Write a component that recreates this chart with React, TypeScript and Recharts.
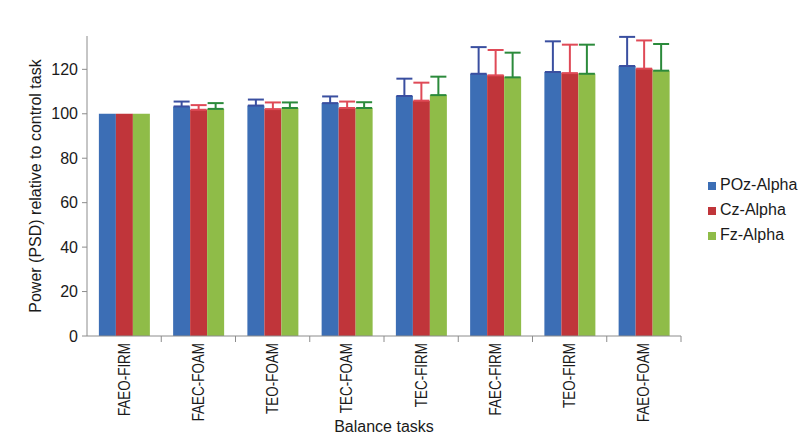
import { Bar, BarChart, ErrorBar, Label, Legend, XAxis, YAxis } from "recharts";

const tasks = ["FAEO-FIRM", "FAEC-FOAM", "TEO-FOAM", "TEC-FOAM", "TEC-FIRM", "FAEC-FIRM", "TEO-FIRM", "FAEO-FOAM"];
const pozAlpha = [100, 103.3, 103.7, 104.8, 108, 118, 118.8, 121.5];
const pozErr = [null, 2.2, 2.7, 3, 7.8, 12, 13.8, 13.1];
const czAlpha = [100, 101.8, 102.1, 102.6, 105.9, 117.3, 118.3, 120.3];
const czErr = [null, 2.1, 3, 2.9, 8.1, 11.4, 12.8, 12.7];
const fzAlpha = [100, 102.2, 102.6, 102.6, 108.4, 116.4, 118, 119.4];
const fzErr = [null, 2.6, 2.5, 2.6, 8.3, 11.1, 13.1, 12];
const yTicks = [0, 20, 40, 60, 80, 100, 120];
const seriesOrder = ["poz", "cz", "fz"];

const FONT = "'Liberation Sans', Arial, sans-serif";
const INK = "#1a1a1a";
const AXIS = "#8c8c8c";

const WIDTH = 800;
const HEIGHT = 440;
const MARGIN = { top: 36, right: 119, bottom: 0, left: 30 };
const Y_AXIS_WIDTH = 57;
// width of one category band, used to put tick marks between categories like Excel
const BAND = (WIDTH - MARGIN.left - MARGIN.right - Y_AXIS_WIDTH) / tasks.length;

// Excel-style "plus" error bars: only the upper half
const upOnly = (e: number | null) => (e == null ? null : [0, e]);

const data = tasks.map((task, i) => ({
  task,
  poz: pozAlpha[i],
  pozErr: upOnly(pozErr[i]),
  cz: czAlpha[i],
  czErr: upOnly(czErr[i]),
  fz: fzAlpha[i],
  fzErr: upOnly(fzErr[i]),
}));

function TaskTick({ x, y, payload }: any) {
  const edge = x + BAND / 2;
  return (
    <g>
      <line x1={edge} x2={edge} y1={y} y2={y + 6} stroke={AXIS} />
      {/* rotated and slightly condensed to mimic the narrow font of the original */}
      <text
        transform={`translate(${x}, ${y + 7}) rotate(-90) scale(0.84, 1)`}
        textAnchor="end"
        dy="0.35em"
        fontSize={16}
        fill={INK}
      >
        {payload.value}
      </text>
    </g>
  );
}

export default function App() {
  return (
    <div style={{ position: "absolute", left: 0, top: 0, fontFamily: FONT, background: "#fff" }}>
      <BarChart
        width={WIDTH}
        height={HEIGHT}
        data={data}
        margin={MARGIN}
        barCategoryGap="16%"
        barGap={0}
      >
        <XAxis
          dataKey="task"
          height={104}
          interval={0}
          tickLine={false}
          tickSize={0}
          tickMargin={0}
          axisLine={{ stroke: AXIS }}
          tick={<TaskTick />}
        >
          <Label value="Balance tasks" position="insideBottom" offset={8} fontSize={16} fill={INK} />
        </XAxis>
        <YAxis
          width={Y_AXIS_WIDTH}
          domain={[0, 135]}
          ticks={yTicks}
          interval={0}
          tickSize={5}
          tickMargin={4}
          axisLine={{ stroke: AXIS }}
          tickLine={{ stroke: AXIS }}
          tick={{ fontSize: 16, fill: INK }}
        >
          <Label
            value="Power (PSD) relative to control task"
            angle={-90}
            position="insideLeft"
            offset={5}
            fontSize={16}
            fill={INK}
            style={{ textAnchor: "middle" }}
          />
        </YAxis>
        {/* centred + middle so the legend takes no room from the plot; placed by wrapperStyle */}
        <Legend
          layout="vertical"
          align="center"
          verticalAlign="middle"
          iconType="square"
          iconSize={8}
          itemSorter={(item: any) => seriesOrder.indexOf(item.dataKey)}
          wrapperStyle={{ top: 172, left: 708, width: 92, lineHeight: "25px", fontSize: 16, textAlign: "left" }}
          formatter={(value) => <span style={{ color: INK, whiteSpace: "nowrap" }}>{value}</span>}
        />
        <Bar dataKey="poz" name="POz-Alpha" fill="#3c6eb5" isAnimationActive={false}>
          <ErrorBar dataKey="pozErr" width={8} strokeWidth={2} stroke="#3a4fa0" />
        </Bar>
        <Bar dataKey="cz" name="Cz-Alpha" fill="#c0353a" isAnimationActive={false}>
          <ErrorBar dataKey="czErr" width={8} strokeWidth={2} stroke="#df4a57" />
        </Bar>
        <Bar dataKey="fz" name="Fz-Alpha" fill="#8fbc48" isAnimationActive={false}>
          <ErrorBar dataKey="fzErr" width={8} strokeWidth={2} stroke="#2b8a3b" />
        </Bar>
      </BarChart>
    </div>
  );
}
